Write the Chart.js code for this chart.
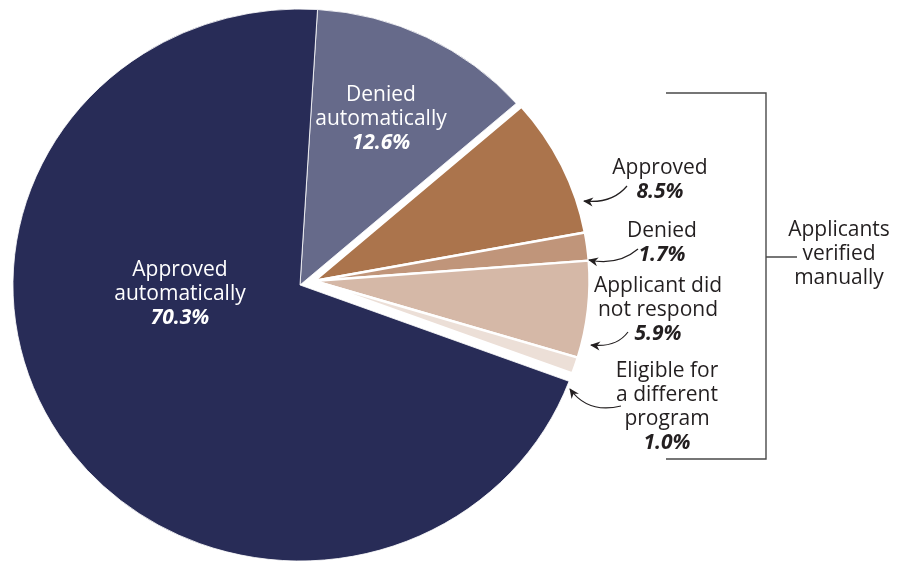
<!DOCTYPE html>
<html>
<head>
<meta charset="utf-8">
<script src="https://cdn.jsdelivr.net/npm/chart.js@4"></script>
<style>
  html, body { margin: 0; background: #fff; }
  #wrap { width: 904px; height: 561px; position: relative; }
</style>
</head>
<body>
<div id="wrap"><canvas id="pie" width="904" height="561"></canvas></div>
<script>
// slices, clockwise from 12 o'clock
const categories = ['Denied automatically', 'Approved', 'Denied', 'Applicant did not respond', 'Eligible for a different program', 'Approved automatically'];
const shares = [12.6, 8.5, 1.7, 5.9, 1.0, 70.3];
const verifiedManually = [false, true, true, true, true, false];
const sliceColors = ['#666a8a', '#ab744c', '#c0957a', '#d5b8a7', '#ecdfd7', '#282c57'];
const labelLines = [['Denied', 'automatically'], ['Approved'], ['Denied'], ['Applicant did', 'not respond'], ['Eligible for', 'a different', 'program'], ['Approved', 'automatically']];
const bracketText = ['Applicants', 'verified', 'manually'];

// label anchors (centre x, first baseline y) and colours
const labelPos = [[381, 101, '#fff'], [660, 174, '#231f20'], [662, 237, '#231f20'], [658, 292, '#231f20'], [667, 377, '#231f20'], [180, 276, '#fff']];
// curved arrows: start, control, end (head)
const arrows = [null, [[627, 186], [612, 204], [584, 201]], [[638, 249], [618, 266], [589, 260]], [[628, 332], [616, 348], [591, 345]], [[621, 406], [588, 414], [570, 389]], null];

const SHIFT = { x: 14, y: -4 };
const STRETCH = 1.04;   // original pie is a touch wider than tall
const GROUP_SCALE = 0.96;
const LH = 24;
const ink = '#231f20';

// ellipse-ish transform about the pie centre, with optional offset and scale
function place(ctx, chart, dx, dy, k) {
  const arc = chart.getDatasetMeta(0).data[0];
  const dpr = chart.currentDevicePixelRatio || 1;
  ctx.setTransform(dpr, 0, 0, dpr, 0, 0);
  ctx.translate(arc.x + dx, arc.y + dy);
  ctx.scale(STRETCH * k, k);
  ctx.translate(-arc.x, -arc.y);
}

// pulls the manually verified wedges out as one block
const shiftGroup = {
  id: 'shiftGroup',
  afterDatasetUpdate(chart, args) {
    args.meta.data.forEach((arc, i) => {
      if (!verifiedManually[i] || arc._shifted) return;
      const base = arc.draw;
      arc.draw = function (ctx, area) {
        ctx.save();
        place(ctx, chart, SHIFT.x, SHIFT.y, GROUP_SCALE);
        base.call(this, ctx, area);
        ctx.restore();
      };
      arc._shifted = true;
    });
  },
  beforeDatasetsDraw(chart) {
    chart.ctx.save();
    place(chart.ctx, chart, 0, 0, 1);
  },
  afterDatasetsDraw(chart) {
    chart.ctx.restore();
  }
};

function arrow(ctx, pts) {
  const [s, c, e] = pts;
  ctx.strokeStyle = ink;
  ctx.fillStyle = ink;
  ctx.lineWidth = 1.2;
  ctx.beginPath();
  ctx.moveTo(s[0], s[1]);
  ctx.quadraticCurveTo(c[0], c[1], e[0], e[1]);
  ctx.stroke();
  const a = Math.atan2(e[1] - c[1], e[0] - c[0]);
  ctx.save();
  ctx.translate(e[0], e[1]);
  ctx.rotate(a);
  ctx.beginPath();
  ctx.moveTo(1, 0);
  ctx.lineTo(-9, -4.5);
  ctx.lineTo(-6, 0);
  ctx.lineTo(-9, 4.5);
  ctx.closePath();
  ctx.fill();
  ctx.restore();
}

const annotate = {
  id: 'annotate',
  afterDraw(chart) {
    const ctx = chart.ctx;
    ctx.save();
    ctx.textAlign = 'center';
    ctx.textBaseline = 'alphabetic';
    categories.forEach((cat, i) => {
      const [x, y, col] = labelPos[i];
      ctx.fillStyle = col;
      ctx.font = '21px "Open Sans"';
      labelLines[i].forEach((t, k) => ctx.fillText(t, x, y + k * LH));
      ctx.font = 'italic bold 21px "Open Sans"';
      ctx.fillText(shares[i].toFixed(1) + '%', x, y + labelLines[i].length * LH);
      if (arrows[i]) arrow(ctx, arrows[i]);
    });

    // bracket round the manual group
    ctx.strokeStyle = '#4a4a4a';
    ctx.lineWidth = 1.4;
    ctx.beginPath();
    ctx.moveTo(666, 93); ctx.lineTo(766, 93); ctx.lineTo(766, 459); ctx.lineTo(666, 459);
    ctx.moveTo(766, 257); ctx.lineTo(797, 257);
    ctx.stroke();
    ctx.fillStyle = ink;
    ctx.font = '21px "Open Sans"';
    bracketText.forEach((t, k) => ctx.fillText(t, 839, 236 + k * LH));
    ctx.restore();
  }
};

new Chart(document.getElementById('pie'), {
  type: 'pie',
  data: {
    labels: categories,
    datasets: [{
      data: shares,
      backgroundColor: sliceColors,
      borderColor: '#fff',
      borderWidth: verifiedManually.map(m => m ? 2.5 : 0.8)
    }]
  },
  options: {
    responsive: false,
    animation: false,
    events: [],
    rotation: 3.5,
    radius: 276,
    layout: { padding: { left: 0, right: 304, top: 9, bottom: 0 } },
    plugins: { legend: { display: false }, tooltip: { enabled: false } }
  },
  plugins: [shiftGroup, annotate]
});
</script>
</body>
</html>
